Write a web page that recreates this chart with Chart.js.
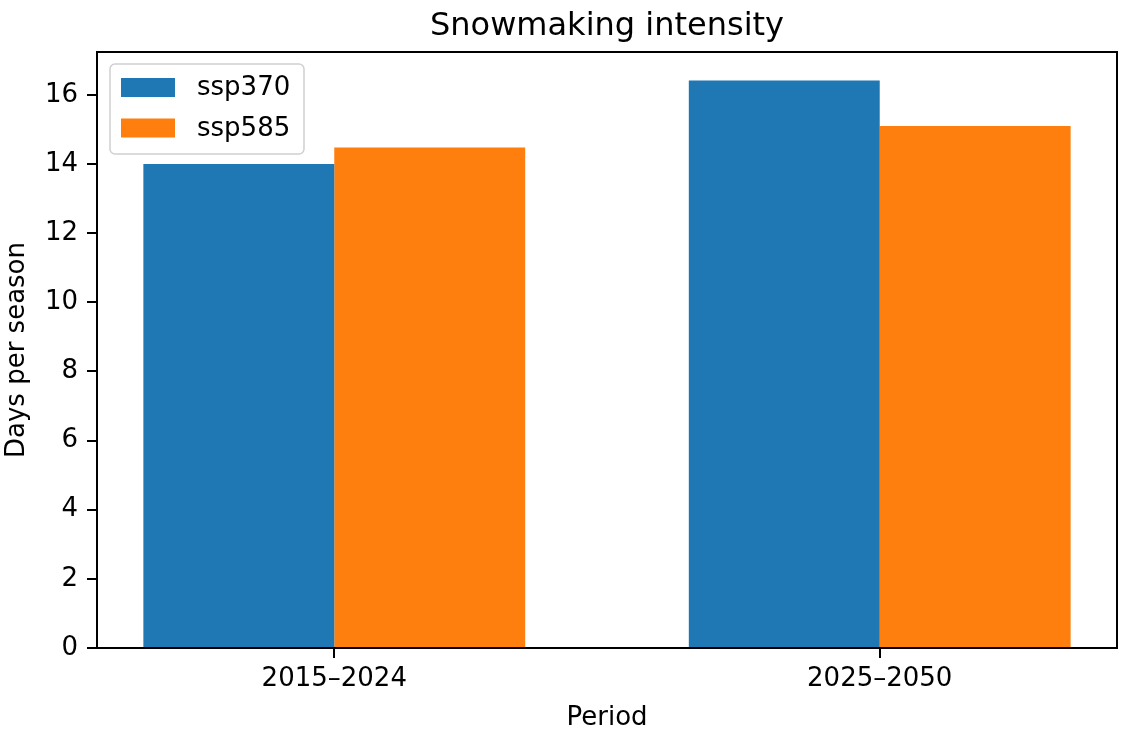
<!DOCTYPE html>
<html lang="en">
<head>
    <meta charset="UTF-8">
    <title>Snowmaking intensity</title>
    <script src="https://cdn.jsdelivr.net/npm/chart.js"></script>
    <style>
        body { margin: 0; background: #fff; }
        canvas { display: block; }
    </style>
</head>
<body>
    <canvas id="snowChart" width="1127" height="740"></canvas>

    <script>
        // Data
        const periods = ['2015\u20132024', '2025\u20132050'];
        const scenarios = ['ssp370', 'ssp585'];
        const ssp370Days = [14.0, 16.42];
        const ssp585Days = [14.48, 15.10];
        const yTicks = [0, 2, 4, 6, 8, 10, 12, 14, 16];
        const chartTitle = 'Snowmaking intensity';

        const colors = ['#1f77b4', '#ff7f0e'];
        const FONT = 'DejaVu Sans';

        // y range like matplotlib's 5% top margin
        const yMax = Math.max(...ssp370Days, ...ssp585Days) * 1.05;

        // Box round the plot area (top and right spines) + title centred over the axes
        const frame = {
            id: 'frame',
            afterDatasetsDraw(chart) {
                const { ctx, chartArea: a } = chart;
                ctx.save();
                ctx.strokeStyle = '#000';
                ctx.lineWidth = 2;
                ctx.strokeRect(a.left, a.top, a.right - a.left, a.bottom - a.top);
                ctx.fillStyle = '#000';
                ctx.font = '32px "' + FONT + '"';
                ctx.textAlign = 'center';
                ctx.textBaseline = 'middle';
                ctx.fillText(chartTitle, (a.left + a.right) / 2, a.top - 25);
                ctx.restore();
            }
        };

        // Legend inside the plot, upper left, matplotlib style
        const insideLegend = {
            id: 'insideLegend',
            afterDraw(chart) {
                const { ctx, chartArea: a } = chart;
                const x = a.left + 13, y = a.top + 12, w = 194, h = 90;
                ctx.save();
                ctx.beginPath();
                ctx.roundRect(x, y, w, h, 5);
                ctx.fillStyle = 'rgba(255,255,255,0.8)';
                ctx.fill();
                ctx.strokeStyle = '#d0d0d0';
                ctx.lineWidth = 1.5;
                ctx.stroke();
                ctx.font = '26px "' + FONT + '"';
                ctx.textBaseline = 'middle';
                chart.data.datasets.forEach((ds, i) => {
                    const cy = y + 23.5 + i * 40.5;
                    ctx.fillStyle = ds.backgroundColor;
                    ctx.fillRect(x + 11, cy - 9.5, 54, 19);
                    ctx.fillStyle = '#000';
                    ctx.fillText(ds.label, x + 87, cy + 1);
                });
                ctx.restore();
            }
        };

        const ctx = document.getElementById('snowChart').getContext('2d');
        const snowChart = new Chart(ctx, {
            type: 'bar',
            data: {
                datasets: [
                    {
                        label: scenarios[0],
                        data: ssp370Days.map((v, i) => ({ x: i, y: v })),
                        backgroundColor: colors[0]
                    },
                    {
                        label: scenarios[1],
                        data: ssp585Days.map((v, i) => ({ x: i, y: v })),
                        backgroundColor: colors[1]
                    }
                ]
            },
            options: {
                responsive: false,
                devicePixelRatio: 1,
                animation: false,
                categoryPercentage: 0.7,
                barPercentage: 1.0,
                layout: { padding: { left: 0, right: 10, top: 52, bottom: 0 } },
                plugins: {
                    legend: { display: false },
                    tooltip: { enabled: false },
                    title: { display: false }
                },
                scales: {
                    x: {
                        type: 'linear',
                        offset: false,
                        min: -0.435,
                        max: 1.435,
                        grid: { display: true, drawOnChartArea: false, drawTicks: true, tickLength: 10, color: '#000', lineWidth: 2, offset: false },
                        border: { display: true, color: '#000', width: 2 },
                        afterBuildTicks: scale => { scale.ticks = periods.map((p, i) => ({ value: i })); },
                        afterFit: scale => { scale.height = 92; },
                        ticks: {
                            color: '#000',
                            padding: 6,
                            maxRotation: 0,
                            font: { family: FONT, size: 26 },
                            callback: (value) => periods[Math.round(value)]
                        },
                        title: {
                            display: true,
                            text: 'Period',
                            color: '#000',
                            font: { family: FONT, size: 26 },
                            padding: { top: 0, bottom: 6 }
                        }
                    },
                    y: {
                        min: 0,
                        max: yMax,
                        grid: { display: true, drawOnChartArea: false, drawTicks: true, tickLength: 10, color: '#000', lineWidth: 2 },
                        border: { display: true, color: '#000', width: 2 },
                        afterBuildTicks: scale => { scale.ticks = yTicks.map(v => ({ value: v })); },
                        afterFit: scale => { scale.width = 97; },
                        ticks: {
                            color: '#000',
                            padding: 9,
                            font: { family: FONT, size: 26 },
                            callback: value => String(value)
                        },
                        title: {
                            display: true,
                            text: 'Days per season',
                            color: '#000',
                            font: { family: FONT, size: 26 },
                            padding: { top: 2, bottom: 0 }
                        }
                    }
                }
            },
            plugins: [frame, insideLegend]
        });
    </script>
</body>
</html>
